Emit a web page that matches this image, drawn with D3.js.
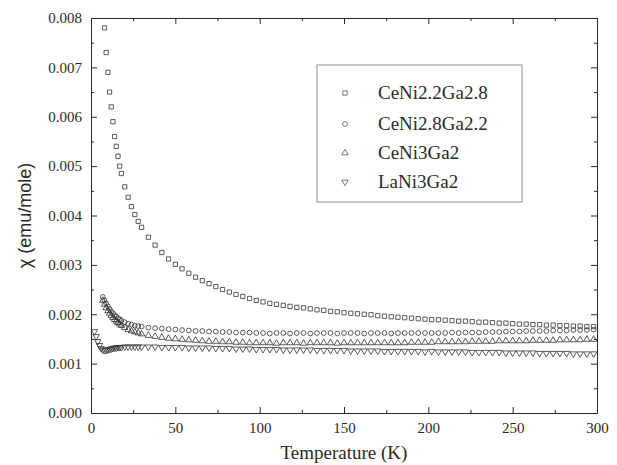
<!DOCTYPE html>
<html>
<head>
<meta charset="utf-8">
<script src="https://cdn.jsdelivr.net/npm/d3@7"></script>
<style>
  body { margin: 0; background: #fff; }
  svg { display: block; }
</style>
</head>
<body>
<div id="chart"></div>
<script>
// susceptibility vs temperature, four samples

var temps = [2, 3, 4, 5, 6, 7, 8, 9, 10, 11, 12, 13, 14, 15, 16, 17, 18, 20, 22, 24, 26, 28, 30,
  34, 38, 42, 46, 50, 54, 58, 62, 66, 70, 74, 78, 82, 86, 90, 94, 98, 102, 106, 110,
  114, 118, 122, 126, 130, 134, 138, 142, 146, 150, 154, 158, 162, 166, 170, 174, 178, 182,
  186, 190, 194, 198, 202, 206, 210, 214, 218, 222, 226, 230, 234, 238, 242, 246, 250, 254,
  258, 262, 266, 270, 274, 278, 282, 286, 290, 294, 298];

var chiCeNi22 = [null, null, null, null, null, null,
  0.0078, 0.0073, 0.0069, 0.0065, 0.0062, 0.0059, 0.0056, 0.0054, 0.0052, 0.0050, 0.00485,
  0.00458, 0.00437, 0.00418, 0.00402, 0.00388, 0.00376,
  0.00356, 0.0034, 0.00325, 0.00312, 0.00301, 0.00292, 0.00283, 0.00275, 0.00268, 0.00262,
  0.00256, 0.0025, 0.00245, 0.0024, 0.00236, 0.00232, 0.00228, 0.00225, 0.00222, 0.0022,
  0.00218, 0.00216, 0.00214, 0.00213, 0.00211, 0.00209, 0.00208, 0.00206, 0.00205, 0.00203,
  0.00202, 0.00201, 0.002, 0.00199, 0.00197, 0.00196, 0.00195, 0.00194, 0.00193, 0.00192,
  0.00191, 0.0019, 0.00189, 0.00189, 0.00188, 0.00187, 0.00186, 0.00186, 0.00185, 0.00184,
  0.00184, 0.00183, 0.00182, 0.00182, 0.00181, 0.0018, 0.0018, 0.00179, 0.00179, 0.00178,
  0.00178, 0.00177, 0.00177, 0.00176, 0.00176, 0.00175, 0.00175];

var chiCeNi28 = [null, null, null, null, null,
  0.00235, 0.00228, 0.00222, 0.00216, 0.00211, 0.00206, 0.00202, 0.00198, 0.00195, 0.00192, 0.0019, 0.00187,
  0.00184, 0.00181, 0.00179, 0.00177, 0.00176, 0.00175,
  0.00173, 0.00172, 0.00171, 0.0017, 0.00169, 0.00168, 0.00167, 0.00166, 0.00166, 0.00165,
  0.00165, 0.00164, 0.00164, 0.00163, 0.00163, 0.00163, 0.00162, 0.00162, 0.00161, 0.00162,
  0.00162, 0.00161, 0.00162, 0.00162, 0.00161, 0.00162, 0.00162, 0.00162, 0.00161, 0.00162,
  0.00162, 0.00162, 0.00161, 0.00162, 0.00162, 0.00162, 0.00161, 0.00162, 0.00162, 0.00162,
  0.00162, 0.00162, 0.00162, 0.00162, 0.00162, 0.00163, 0.00162, 0.00163, 0.00163, 0.00163,
  0.00164, 0.00164, 0.00164, 0.00165, 0.00165, 0.00165, 0.00166, 0.00166, 0.00166, 0.00166,
  0.00167, 0.00167, 0.00167, 0.00168, 0.00168, 0.00168, 0.00169];

var chiCeNi3 = [null, null, null, null, null,
  0.00228, 0.0022, 0.00213, 0.00207, 0.00202, 0.00197, 0.00193, 0.00189, 0.00186, 0.00183, 0.0018, 0.00177,
  0.00173, 0.00169, 0.00166, 0.00164, 0.00162, 0.0016,
  0.00157, 0.00155, 0.00153, 0.00151, 0.0015, 0.00149, 0.00148, 0.00147, 0.00146, 0.00145,
  0.00145, 0.00144, 0.00144, 0.00143, 0.00143, 0.00142, 0.00142, 0.00142, 0.00142, 0.00141,
  0.00142, 0.00142, 0.00142, 0.00141, 0.00142, 0.00142, 0.00142, 0.00142, 0.00141, 0.00142,
  0.00142, 0.00142, 0.00142, 0.00142, 0.00142, 0.00142, 0.00142, 0.00142, 0.00142, 0.00143,
  0.00143, 0.00143, 0.00143, 0.00144, 0.00144, 0.00144, 0.00144, 0.00144, 0.00145, 0.00145,
  0.00145, 0.00145, 0.00146, 0.00146, 0.00146, 0.00146, 0.00146, 0.00147, 0.00147, 0.00147,
  0.00147, 0.00148, 0.00148, 0.00148, 0.00148, 0.00149, 0.00149];

var chiLaNi3 = [0.00165, 0.00155, 0.00145, 0.00137, 0.00131, 0.00128, 0.00127, 0.00127, 0.00128,
  0.00129, 0.0013, 0.00131, 0.00132, 0.00132, 0.00133, 0.00133, 0.00133,
  0.00134, 0.00134, 0.00134, 0.00134, 0.00134, 0.00134,
  0.00134, 0.00134, 0.00133, 0.00133, 0.00133, 0.00133, 0.00132, 0.00132, 0.00132, 0.00132,
  0.00131, 0.00131, 0.00131, 0.0013, 0.0013, 0.0013, 0.00129, 0.00129, 0.00129, 0.00129,
  0.00128, 0.00128, 0.00128, 0.00128, 0.00128, 0.00127, 0.00127, 0.00127, 0.00127, 0.00127,
  0.00126, 0.00126, 0.00126, 0.00126, 0.00126, 0.00125, 0.00125, 0.00125, 0.00125, 0.00125,
  0.00125, 0.00124, 0.00125, 0.00124, 0.00124, 0.00124, 0.00124, 0.00124, 0.00123, 0.00123,
  0.00123, 0.00123, 0.00123, 0.00122, 0.00122, 0.00122, 0.00122, 0.00122, 0.00121, 0.00121,
  0.00121, 0.00121, 0.00121, 0.0012, 0.0012, 0.0012, 0.0012];

var seriesNames = ["CeNi2.2Ga2.8", "CeNi2.8Ga2.2", "CeNi3Ga2", "LaNi3Ga2"];
var seriesValues = [chiCeNi22, chiCeNi28, chiCeNi3, chiLaNi3];

var xMajor = [0, 50, 100, 150, 200, 250, 300];
var xMinor = [25, 75, 125, 175, 225, 275];
var yMajor = [0, 0.001, 0.002, 0.003, 0.004, 0.005, 0.006, 0.007, 0.008];
var yMinor = [0.0005, 0.0015, 0.0025, 0.0035, 0.0045, 0.0055, 0.0065, 0.0075];

//////////////////////////////////////////////////////////////////////////////
// sizes and scales

var width = 617, height = 465;
var margin = {top: 18, right: 20, bottom: 52, left: 91};
var ink = "#2a2a2a";
var serif = "'Liberation Serif', 'Times New Roman', serif";

var xScale = d3.scaleLinear().domain([0, 300]).range([margin.left, width - margin.right]);
var yScale = d3.scaleLinear().domain([0, 0.008]).range([height - margin.bottom, margin.top]);

var symbols = [
  d3.symbol().type(d3.symbolSquare).size(18)(),
  d3.symbol().type(d3.symbolCircle).size(18)(),
  d3.symbol().type(d3.symbolTriangle).size(18)(),
  d3.symbol().type(d3.symbolTriangle).size(18)()
];
var rotations = [0, 0, 0, 180];

var svg = d3.select("#chart")
  .append("svg")
  .attr("width", width)
  .attr("height", height);

//////////////////////////////////////////////////////////////////////////////
// axes (ticks point inward on all four sides)

function styleAxis(g) {
  g.attr("font-family", serif).attr("font-size", 15);
  g.selectAll("path, line").attr("stroke", ink).attr("stroke-width", 1);
  g.selectAll("text").attr("fill", ink);
  return g;
}

var x0 = height - margin.bottom, y0 = margin.top;
var left0 = margin.left, right0 = width - margin.right;

svg.append("g").attr("transform", "translate(0," + x0 + ")")
  .call(d3.axisBottom(xScale).tickValues(xMajor).tickFormat(d3.format("d"))
    .tickSize(-6).tickSizeOuter(0).tickPadding(9))
  .call(styleAxis);
svg.append("g").attr("transform", "translate(0," + x0 + ")")
  .call(d3.axisBottom(xScale).tickValues(xMinor).tickFormat("").tickSize(-3).tickSizeOuter(0))
  .call(styleAxis);
svg.append("g").attr("transform", "translate(0," + y0 + ")")
  .call(d3.axisTop(xScale).tickValues(xMajor).tickFormat("").tickSize(-6).tickSizeOuter(0))
  .call(styleAxis);
svg.append("g").attr("transform", "translate(0," + y0 + ")")
  .call(d3.axisTop(xScale).tickValues(xMinor).tickFormat("").tickSize(-3).tickSizeOuter(0))
  .call(styleAxis);

svg.append("g").attr("transform", "translate(" + left0 + ",0)")
  .call(d3.axisLeft(yScale).tickValues(yMajor).tickFormat(d3.format(".3f"))
    .tickSize(-6).tickSizeOuter(0).tickPadding(9))
  .call(styleAxis);
svg.append("g").attr("transform", "translate(" + left0 + ",0)")
  .call(d3.axisLeft(yScale).tickValues(yMinor).tickFormat("").tickSize(-3).tickSizeOuter(0))
  .call(styleAxis);
svg.append("g").attr("transform", "translate(" + right0 + ",0)")
  .call(d3.axisRight(yScale).tickValues(yMajor).tickFormat("").tickSize(-6).tickSizeOuter(0))
  .call(styleAxis);
svg.append("g").attr("transform", "translate(" + right0 + ",0)")
  .call(d3.axisRight(yScale).tickValues(yMinor).tickFormat("").tickSize(-3).tickSizeOuter(0))
  .call(styleAxis);

// axis titles
svg.append("text")
  .attr("x", (left0 + right0) / 2)
  .attr("y", 459)
  .attr("text-anchor", "middle")
  .attr("fill", ink)
  .style("font-family", serif)
  .style("font-size", "19px")
  .text("Temperature (K)");

svg.append("text")
  .attr("transform", "translate(31," + ((x0 + y0) / 2) + ") rotate(-90)")
  .attr("text-anchor", "middle")
  .attr("fill", ink)
  .style("font-family", "'Liberation Sans', Arial, sans-serif")
  .style("font-size", "18px")
  .text("χ (emu/mole)");

//////////////////////////////////////////////////////////////////////////////
// data points

seriesValues.forEach(function(vals, i) {
  var pts = temps
    .map(function(t, j) { return {T: t, chi: vals[j]}; })
    .filter(function(d) { return d.chi != null; });

  svg.append("g")
    .selectAll("path")
    .data(pts)
    .enter()
    .append("path")
    .attr("d", symbols[i])
    .attr("transform", function(d) {
      return "translate(" + xScale(d.T) + "," + yScale(d.chi) + ") rotate(" + rotations[i] + ")";
    })
    .attr("fill", "none")
    .attr("stroke", "#333")
    .attr("stroke-width", 0.8);
});

//////////////////////////////////////////////////////////////////////////////
// legend

var legend = svg.append("g");

legend.append("rect")
  .attr("x", 317).attr("y", 65)
  .attr("width", 205).attr("height", 137)
  .attr("fill", "none")
  .attr("stroke", "#777")
  .attr("stroke-width", 0.8);

var rowY = [93, 124, 153, 182];

seriesNames.forEach(function(name, i) {
  legend.append("path")
    .attr("d", symbols[i])
    .attr("transform", "translate(345," + rowY[i] + ") rotate(" + rotations[i] + ")")
    .attr("fill", "none")
    .attr("stroke", "#555")
    .attr("stroke-width", 0.8);
  legend.append("text")
    .attr("x", 378)
    .attr("y", rowY[i] + 6)
    .attr("fill", ink)
    .style("font-family", serif)
    .style("font-size", "19px")
    .text(name);
});
</script>
</body>
</html>
